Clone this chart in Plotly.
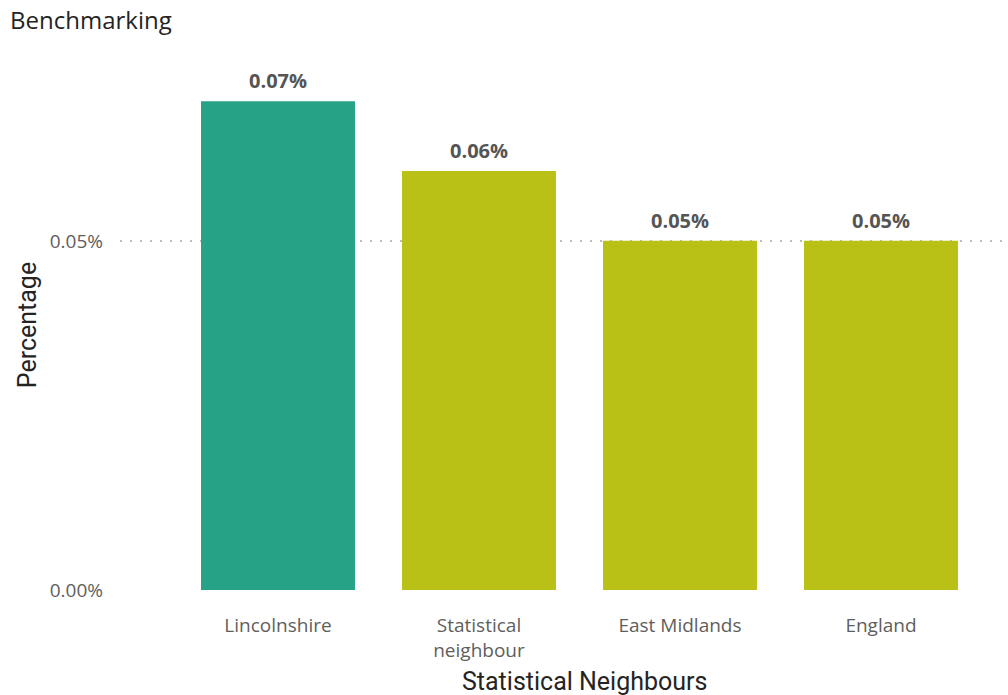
import plotly.graph_objects as go

# Benchmarking data (values in percent)
areas = ["Lincolnshire", "Statistical<br>neighbour", "East Midlands", "England"]
values = [0.07, 0.06, 0.05, 0.05]
bar_colors = ["#26A387", "#B9C116", "#B9C116", "#B9C116"]
tick_values = [0.0, 0.05]
tick_labels = ["0.00%", "0.05%"]

fig = go.Figure(
    go.Bar(
        x=list(range(len(areas))),
        y=values,
        marker=dict(color=bar_colors, line=dict(width=0)),
        width=0.766,
        hoverinfo="skip",
    )
)

# value labels above each bar
for i, v in enumerate(values):
    fig.add_annotation(
        x=i, y=v, xref="x", yref="y",
        text=f"{v:.2f}%",
        showarrow=False,
        yanchor="bottom",
        yshift=5,
        font=dict(family="Open Sans", size=20, color="#555555", weight="bold"),
    )

# x-axis title, centred over the bars
fig.add_annotation(
    x=584, y=681, xref="paper", yref="paper",
    text="Statistical Neighbours",
    showarrow=False,
    xanchor="center", yanchor="middle",
    font=dict(family="Roboto", size=25, color="#252423"),
)

fig.update_layout(
    width=1008,
    height=695,
    paper_bgcolor="white",
    plot_bgcolor="white",
    margin=dict(l=120, r=3, t=60, b=105),
    showlegend=False,
    title=dict(
        text="Benchmarking",
        x=0.01, xanchor="left",
        y=0.971, yanchor="middle",
        font=dict(family="Open Sans", size=24, color="#252423"),
    ),
    font=dict(family="Open Sans"),
)

# convert the pixel position of the x title annotation to paper coords
plot_w = 1008 - 120 - 3
plot_h = 695 - 60 - 105
ann = fig.layout.annotations[-1]
ann.x = (ann.x - 120) / plot_w
ann.y = (695 - 105 - ann.y) / plot_h

fig.update_xaxes(
    tickmode="array",
    tickvals=list(range(len(areas))),
    ticktext=areas,
    range=[-0.786, 3.617],
    tickfont=dict(size=19, color="#605E5C"),
    ticklabelstandoff=22,
    showgrid=False,
    zeroline=False,
    showline=False,
)

fig.update_yaxes(
    tickmode="array",
    tickvals=tick_values,
    ticktext=tick_labels,
    range=[0, 0.0759],
    tickfont=dict(size=19, color="#605E5C"),
    ticklabelstandoff=16,
    showgrid=True,
    gridcolor="#BDBDBD",
    griddash="1.5px,8.5px",
    gridwidth=1.5,
    zeroline=False,
    showline=False,
    title=dict(
        text="Percentage",
        font=dict(family="Roboto", size=25, color="#252423"),
        standoff=5,
    ),
)

fig.write_html("out.html")
